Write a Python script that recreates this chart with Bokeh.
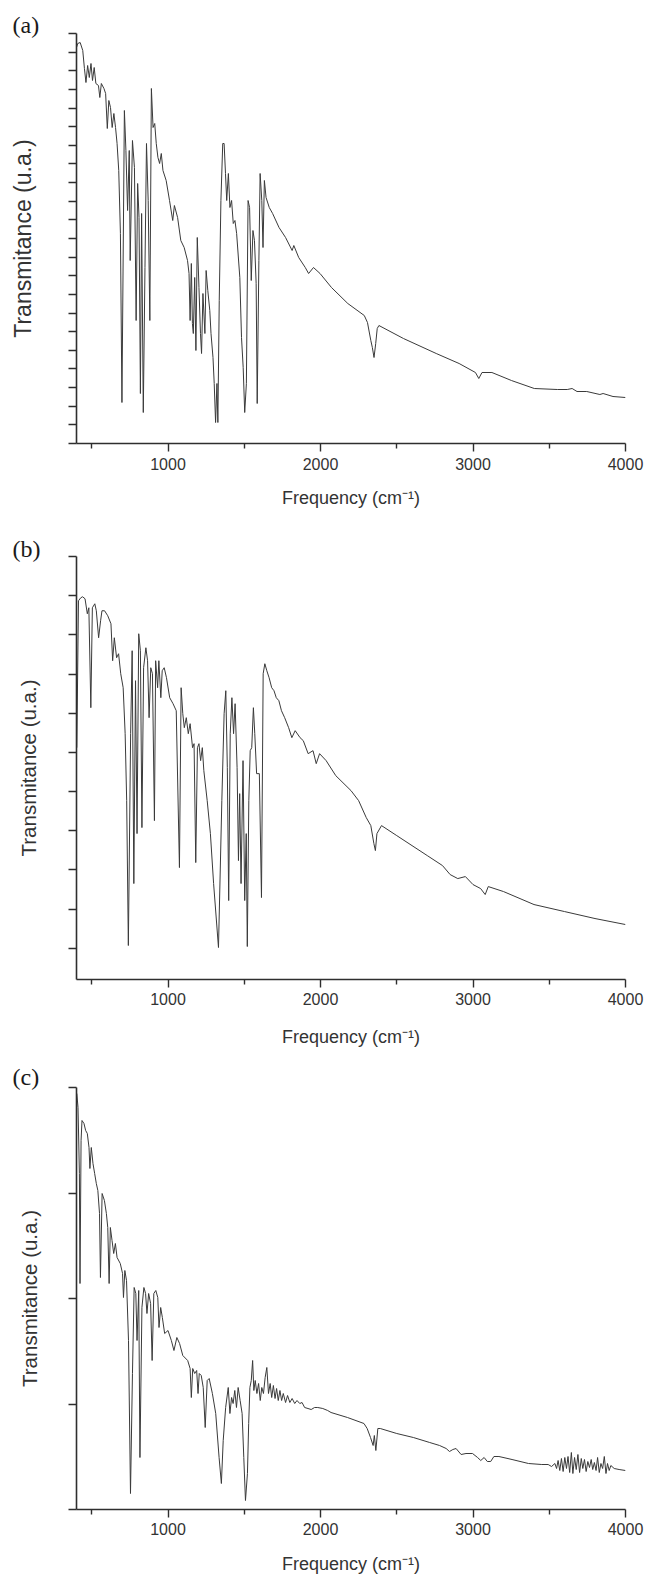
from bokeh.plotting import figure
from bokeh.layouts import column
from bokeh.models import FixedTicker, Range1d
from bokeh.embed import file_html
from bokeh.resources import INLINE

# ---------------- data (arbitrary transmittance units) ----------------
freq_a = [400,408,424,441,452,462,473,484,495,505,516,527,544,553,563,580,591,602,612,623,634,645,656,666,677,688,698,714,724,735,746,752,767,780,791,801,810,819,827,838,849,859,870,881,891,902,913,923,934,945,956,967,988,1010,1031,1042,1063,1084,1106,1128,1138,1145,1153,1160,1166,1175,1183,1192,1203,1213,1220,1229,1242,1250,1261,1274,1282,1295,1303,1312,1321,1327,1336,1347,1359,1368,1377,1385,1396,1406,1417,1428,1439,1450,1471,1482,1493,1503,1514,1525,1535,1546,1557,1567,1578,1585,1596,1604,1615,1623,1632,1643,1664,1686,1728,1771,1814,1825,1857,1900,1922,1954,1997,2072,2179,2287,2308,2330,2340,2351,2362,2372,2383,2544,2759,2909,3016,3038,3059,3124,3252,3402,3553,3618,3650,3682,3746,3832,3853,3918,4000]
trans_a = [396,400,401,393,375,361,378,366,380,363,376,360,358,346,360,355,350,315,343,336,316,330,316,300,273,210,41,333,293,233,293,183,303,276,123,260,226,50,230,31,176,300,243,123,355,316,320,300,286,280,290,273,263,243,223,238,226,203,196,183,170,123,180,120,110,166,93,206,156,110,90,150,110,173,153,133,110,86,60,21,60,21,143,243,300,300,270,243,270,236,243,220,223,210,166,106,76,31,60,243,236,163,213,203,160,40,183,270,243,196,263,246,236,230,216,206,193,198,186,176,170,176,170,156,140,128,121,103,96,86,100,115,118,105,90,80,71,65,71,71,63,55,54,54,55,52,52,49,50,47,46]

freq_b = [402,413,428,440,456,471,481,494,504,520,530,545,558,567,584,605,626,637,648,663,676,690,706,719,729,740,755,765,776,787,797,808,819,829,840,855,866,876,887,898,911,919,932,940,953,962,975,990,1011,1033,1054,1075,1086,1097,1107,1120,1133,1145,1161,1171,1182,1193,1203,1214,1225,1235,1257,1278,1299,1331,1353,1368,1379,1389,1398,1408,1419,1430,1440,1453,1462,1470,1479,1492,1503,1513,1520,1530,1539,1549,1560,1569,1581,1599,1613,1624,1635,1648,1663,1680,1695,1710,1727,1744,1765,1791,1812,1834,1866,1887,1919,1951,1972,1994,2037,2100,2200,2250,2300,2330,2350,2360,2370,2400,2500,2600,2700,2800,2850,2900,2950,3000,3050,3080,3100,3200,3400,3600,3800,4000]
trans_b = [232,379,382,383,381,366,372,272,372,376,369,342,359,369,369,364,356,319,342,322,326,306,292,246,179,34,246,329,96,299,146,346,329,152,312,332,319,262,312,306,159,319,292,319,282,309,312,302,282,276,269,112,292,266,252,262,246,256,232,236,117,232,236,219,232,209,179,146,96,32,179,266,289,212,79,246,282,246,276,212,119,186,96,219,79,146,33,179,229,232,272,246,206,206,82,306,316,309,302,292,289,282,279,269,262,252,242,249,242,239,226,229,216,226,219,204,189,179,162,154,136,129,146,154,144,134,124,114,105,101,103,95,91,85,93,88,75,68,61,55]

freq_c = [402,410,419,423,430,436,449,460,471,482,
          488,497,508,519,530,540,551,557,568,583,
          596,605,614,622,633,644,655,666,687,702,
          708,717,728,741,754,767,778,789,797,808,
          816,829,842,853,862,873,886,896,907,920,
          933,941,952,963,978,1000,1022,1039,1058,1076,
          1097,1129,1145,1153,1162,1175,1188,1197,1205,1218,
          1231,1244,1257,1270,1291,1313,1335,1350,1362,1378,
          1395,1406,1417,1427,1438,1449,1460,1473,1486,1497,
          1508,1521,1529,1537,1546,1555,1563,1572,1583,1594,
          1605,1615,1626,1637,1648,1659,1670,1680,1691,1702,
          1712,1723,1734,1745,1756,1771,1784,1799,1814,1831,
          1846,1864,1879,1896,1918,1939,1961,1982,2015,2047,
          2069,2177,2285,2306,2328,2345,2353,2363,2376,2392,
          2500,2609,2716,2781,2824,2846,2868,2889,2922,2954,
          2997,3030,3051,3073,3094,3116,3137,3170,3256,3364,3451,
          3493,3515,3537,3548,3558,3569,3580,3591,3602,3613,
          3623,3634,3645,3655,3666,3677,3688,3699,3710,3720,
          3731,3742,3753,3764,3775,3785,3796,3807,3817,3828,
          3839,3850,3861,3872,3882,3893,3904,3926,3958,4000]
trans_c = [416,402,336,226,369,389,386,379,376,362,
           341,362,346,336,326,319,296,232,316,309,
           296,282,226,282,269,256,266,252,246,236,
           212,239,229,169,16,136,222,216,169,219,
           52,202,222,216,196,216,206,149,216,219,
           212,182,202,192,176,179,169,159,172,166,
           154,149,141,112,141,136,139,116,136,134,
           122,82,129,131,116,96,52,26,69,102,
           122,96,112,106,119,102,122,109,96,52,
           9,36,86,122,129,149,119,129,116,126,
           109,122,116,132,142,116,126,112,124,111,
           121,109,119,109,116,107,114,107,111,106,
           109,106,107,102,101,100,102,102,101,99,
           97,92,86,81,72,64,74,59,81,81,
           76,72,67,64,61,58,60,61,55,56,
           56,52,49,52,48,48,53,53,50,46,45,
           45,43,46,41,49,39,51,38,52,41,
           53,37,57,36,52,40,55,37,51,41,
           50,38,48,42,50,40,47,39,52,37,
           46,41,53,36,46,39,44,41,40,39]

x_major = [1000, 2000, 3000, 4000]
x_minor = [500, 1500, 2500, 3500]
ymax_a = 410
ymax_b = 423.3
ymax_c = 422
yticks_a = [ymax_a * i / 22 for i in range(23)]
yticks_b = [31.3 + 39.2 * i for i in range(11)]
yticks_c = [ymax_c * i / 4 for i in range(5)]

XLABEL = "Frequency (cm\u207b\u00b9)"
YLABEL = "Transmitance (u.a.)"
INK = "#2e2e2e"


def panel(freq, trans, ymax, yticks, height, top, bottom, left, right, letter,
          title_standoff, ylab_size, ylab_standoff, xlab_standoff, tick_standoff):
    p = figure(width=655, height=height,
               x_range=Range1d(400, 4000), y_range=Range1d(0, ymax),
               output_backend="svg", toolbar_location=None,
               min_border_top=top, min_border_bottom=bottom,
               min_border_left=left, min_border_right=right,
               x_axis_label=XLABEL, y_axis_label=YLABEL)
    p.line(x=freq, y=trans, line_color="#3a3a3a", line_width=1)

    p.title.text = letter
    p.title.text_font = "Liberation Serif"
    p.title.text_font_size = "24px"
    p.title.text_font_style = "normal"
    p.title.text_color = "#1a1a1a"
    p.title.align = "left"
    p.title.offset = -64
    p.title.standoff = title_standoff

    p.grid.visible = False
    p.outline_line_color = None
    p.background_fill_color = "white"
    p.border_fill_color = "white"

    xa = p.xaxis[0]
    xa.ticker = FixedTicker(ticks=x_major, minor_ticks=x_minor)
    xa.axis_line_color = INK
    xa.axis_line_width = 1.6
    xa.major_tick_line_color = INK
    xa.major_tick_line_width = 1.4
    xa.minor_tick_line_color = INK
    xa.minor_tick_line_width = 1.4
    xa.major_tick_in = 0
    xa.major_tick_out = 8
    xa.minor_tick_in = 0
    xa.minor_tick_out = 5
    xa.major_label_text_font = "Liberation Sans"
    xa.major_label_text_font_size = "16px"
    xa.major_label_text_color = "#333333"
    xa.major_label_standoff = tick_standoff
    xa.axis_label_text_font = "Liberation Sans"
    xa.axis_label_text_font_size = "18px"
    xa.axis_label_text_font_style = "normal"
    xa.axis_label_text_color = "#333333"
    xa.axis_label_standoff = xlab_standoff

    ya = p.yaxis[0]
    ya.ticker = FixedTicker(ticks=yticks, minor_ticks=[])
    ya.axis_line_color = INK
    ya.axis_line_width = 1.6
    ya.major_tick_line_color = INK
    ya.major_tick_line_width = 1.4
    ya.major_tick_in = 0
    ya.major_tick_out = 8
    ya.minor_tick_line_color = None
    ya.major_label_text_font_size = "0px"
    ya.major_label_overrides = {t: "" for t in yticks}
    ya.major_label_standoff = 0
    ya.axis_label_text_font = "Liberation Sans"
    ya.axis_label_text_font_size = ylab_size
    ya.axis_label_text_font_style = "normal"
    ya.axis_label_text_color = "#333333"
    ya.axis_label_standoff = ylab_standoff
    return p


pa = panel(freq_a, trans_a, ymax_a, yticks_a, 520, 33, 77, 67, 30, "(a)", -9, "23px", 33, 15, 6)
pb = panel(freq_b, trans_b, ymax_b, yticks_b, 530, 36, 71, 73, 20, "(b)", -10, "20.5px", 29, 19, 5)
pc = panel(freq_c, trans_c, ymax_c, yticks_c, 528, 37, 69, 76, 23, "(c)", -5, "20.5px", 28, 16, 5)

layout = column(pa, pb, pc, spacing=0)
open("out.html", "w").write(file_html(layout, INLINE))
